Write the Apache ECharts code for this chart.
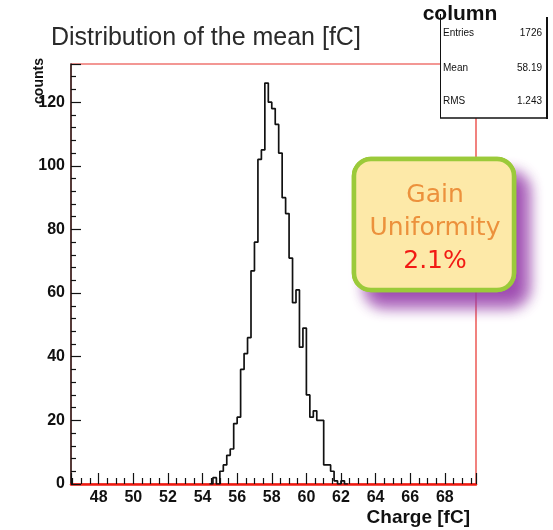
<!DOCTYPE html>
<html><head><meta charset="utf-8">
<script src="https://cdn.jsdelivr.net/npm/echarts@6/dist/echarts.min.js"></script>
<style>html,body{margin:0;padding:0;background:#fff}#c{width:553px;height:530px}</style>
</head><body><div id="c"></div>
<script>
// Histogram "column": bin left edges (fC) and counts per bin (bin width 0.2 fC)
const binLeftEdges = [54.4, 54.6, 54.8, 55.0, 55.2, 55.4, 55.6, 55.8, 56.0, 56.2,
  56.4, 56.6, 56.8, 57.0, 57.2, 57.4, 57.6, 57.8, 58.0, 58.2,
  58.4, 58.6, 58.8, 59.0, 59.2, 59.4, 59.6, 59.8, 60.0, 60.2,
  60.4, 60.6, 60.8, 61.0, 61.2, 61.4, 61.6, 61.8, 62.0, 62.2];
const binCounts = [0, 2, 0, 4, 6, 9, 11, 19, 21, 36,
  41, 46, 67, 76, 102, 105, 126, 120, 118, 113,
  104, 90, 85, 71, 57, 61, 43, 49, 28, 21,
  23, 20, 20, 6, 6, 4, 1, 0, 1, 0];
const binWidth = 0.2;
const xRange = [46.4, 69.8];
const yRange = [0, 132];
const titleText = 'Distribution of the mean [fC]';
const statsName = 'column';
const statsLabels = ['Entries', 'Mean', 'RMS'];
const statsValues = ['1726', '58.19', '1.243'];
const xAxisTitle = 'Charge [fC]';
const yAxisTitle = 'counts';
const noteLines = ['Gain', 'Uniformity', '2.1%'];

const histData = binLeftEdges.map((e, i) => [e, binCounts[i]]);
histData.push([+(binLeftEdges[binLeftEdges.length - 1] + binWidth).toFixed(2), 0]);

const chart = echarts.init(document.getElementById('c'), null, {renderer: 'canvas'});
const boldFont = '"Liberation Sans", Arial, sans-serif';
const statsRowsY = [33, 68, 101];
const statsGraphics = [];
statsLabels.forEach((l, i) => {
  statsGraphics.push({type: 'text', z: 102, x: 443, y: statsRowsY[i],
    style: {text: l, font: '10px "Liberation Sans"', fill: '#111', textVerticalAlign: 'middle'}});
  statsGraphics.push({type: 'text', z: 102, x: 542, y: statsRowsY[i],
    style: {text: statsValues[i], font: '10px "Liberation Sans"', fill: '#111', textAlign: 'right', textVerticalAlign: 'middle'}});
});
const noteY = [195, 228, 261];
const noteColors = ['#ec913c', '#ec913c', '#f21a14'];
const noteGraphics = noteLines.map((t, i) => ({
  type: 'text', z: 112, x: 435, y: noteY[i],
  style: {text: t, font: '25px "Comic Sans MS", "DejaVu Sans", sans-serif', fill: noteColors[i], textAlign: 'center', textVerticalAlign: 'middle'}
}));

chart.setOption({
  animation: false,
  backgroundColor: '#fff',
  grid: {left: 71, right: 77, top: 64, bottom: 46, show: true, borderColor: '#e8302a', borderWidth: 1.2, backgroundColor: 'transparent'},
  xAxis: {
    type: 'value', min: xRange[0], max: xRange[1], splitNumber: 12,
    axisLine: {show: true, onZero: false, lineStyle: {color: '#ee1a10', width: 2.5}},
    axisTick: {show: true, inside: true, length: 11, lineStyle: {color: '#111', width: 1.2}},
    minorTick: {show: true, splitNumber: 4, length: 6, lineStyle: {color: '#111', width: 1.2}},
    splitLine: {show: false},
    axisLabel: {show: true, showMinLabel: false, showMaxLabel: false, margin: 6,
      fontFamily: boldFont, fontWeight: 'bold', fontSize: 16, color: '#111'}
  },
  yAxis: {
    type: 'value', min: yRange[0], max: yRange[1], interval: 20,
    axisLine: {show: true, onZero: false, lineStyle: {color: '#222', width: 1.5}},
    axisTick: {show: true, inside: true, length: 10, lineStyle: {color: '#111', width: 1.2}},
    minorTick: {show: true, splitNumber: 5, length: 5, lineStyle: {color: '#111', width: 1.2}},
    splitLine: {show: false},
    axisLabel: {show: true, showMaxLabel: false, margin: 6,
      fontFamily: boldFont, fontWeight: 'bold', fontSize: 16, color: '#111'}
  },
  series: [{
    type: 'line', step: 'end', data: histData, symbol: 'none', z: 5,
    lineStyle: {color: '#111', width: 1.7}
  }],
  graphic: [
    {type: 'text', z: 100, x: 51, y: 38,
      style: {text: titleText, font: '25px "Liberation Sans"', fill: '#2a2a2a', textVerticalAlign: 'middle'}},
    {type: 'text', z: 100, x: 39, y: 81, rotation: Math.PI / 2,
      style: {text: yAxisTitle, font: 'bold 14px "Liberation Sans"', fill: '#111', textAlign: 'center', textVerticalAlign: 'middle'}},
    {type: 'text', z: 100, x: 470, y: 518,
      style: {text: xAxisTitle, font: 'bold 19px "Liberation Sans"', fill: '#111', textAlign: 'right', textVerticalAlign: 'middle'}},
    {type: 'rect', z: 101, shape: {x: 440, y: 14, width: 107, height: 104}, style: {fill: '#fff'}},
    {type: 'line', z: 102, shape: {x1: 440.5, y1: 14, x2: 440.5, y2: 118}, style: {stroke: '#111', lineWidth: 1}},
    {type: 'line', z: 102, shape: {x1: 547, y1: 17, x2: 547, y2: 119}, style: {stroke: '#111', lineWidth: 2}},
    {type: 'line', z: 102, shape: {x1: 440, y1: 118, x2: 548, y2: 118}, style: {stroke: '#111', lineWidth: 1.5}},
    {type: 'text', z: 103, x: 460, y: 14,
      style: {text: statsName, font: 'bold 21px "Liberation Sans"', fill: '#111', textAlign: 'center', textVerticalAlign: 'middle'}},
    ...statsGraphics,
    {type: 'rect', z: 110, shape: {x: 354, y: 159, width: 160, height: 131, r: 17},
      style: {fill: '#fde9a8', stroke: '#9bca3a', lineWidth: 4.5,
        shadowBlur: 14, shadowColor: 'rgba(150,60,170,0.9)', shadowOffsetX: 13, shadowOffsetY: 15}},
    {type: 'rect', z: 111, shape: {x: 354, y: 159, width: 160, height: 131, r: 17},
      style: {fill: '#fde9a8', stroke: '#9bca3a', lineWidth: 4.5}},
    ...noteGraphics
  ]
});
</script></body></html>
